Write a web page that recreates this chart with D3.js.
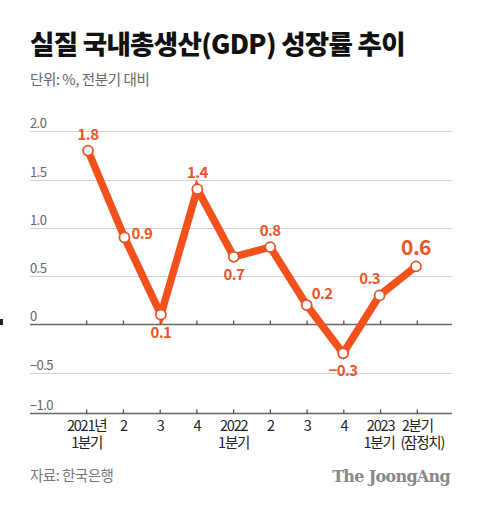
<!DOCTYPE html>
<html><head><meta charset="utf-8">
<script src="https://cdn.jsdelivr.net/npm/d3@7"></script>
<style>
html,body{margin:0;padding:0;background:#fff;}
svg{display:block;font-family:"Noto Sans CJK KR","Noto Sans",sans-serif;}
</style></head>
<body>
<svg id="chart" width="480" height="507"></svg>
<script>
const title = "실질 국내총생산(GDP) 성장률 추이";
const subtitle = "단위: %, 전분기 대비";
const source = "자료: 한국은행";
const brand = "The JoongAng";
const categories = ["2021년\n1분기","2","3","4","2022\n1분기","2","3","4","2023\n1분기","2분기\n(잠정치)"];
const values = [1.8, 0.9, 0.1, 1.4, 0.7, 0.8, 0.2, -0.3, 0.3, 0.6];
const labelPos = ["top","right","bottom","top","bottom","top","topright","bottom","topleft","top"];
const yTicks = [2.0, 1.5, 1.0, 0.5, 0, -0.5, -1.0];

const svg = d3.select("#chart");
const left = 30, right = 452;

const x = d3.scalePoint().domain(d3.range(categories.length)).range([88, 416]);
const y = d3.scaleLinear().domain([-1, -0.5, 2]).range([413, 372.6, 131.3]);

// title
svg.append("text").attr("x", left).attr("y", 54).attr("font-size", 26.5).attr("font-weight", 900)
  .attr("fill", "#111").attr("letter-spacing", -0.7).text(title);
svg.append("text").attr("x", left).attr("y", 85).attr("font-size", 14.5).attr("fill", "#666")
  .attr("letter-spacing", -0.4).text(subtitle);

// gridlines
yTicks.forEach(t => {
  const yy = Math.round(y(t)) + 0.5;
  const isAxis = (t === 0 || t === -1.0);
  svg.append("line").attr("x1", left).attr("x2", right).attr("y1", yy).attr("y2", yy)
    .attr("stroke", isAxis ? "#666" : "#d0d0d0").attr("stroke-width", isAxis ? 1.6 : 1);
  svg.append("text").attr("x", left).attr("y", yy - 4).attr("font-size", 13)
    .attr("fill", "#666").attr("letter-spacing", -0.6)
    .text(t === 0 ? "0" : (t < 0 ? "\u2212" + d3.format(".1f")(-t) : d3.format(".1f")(t)));
});

// ticks on 0 line and bottom axis
const tickX = d3.scalePoint().domain(d3.range(categories.length)).range([86.7, 417.3]);
[0, -1.0].forEach(t => {
  const yy = Math.round(y(t)) + 0.5;
  categories.forEach((c, i) => {
    svg.append("line").attr("x1", tickX(i)).attr("x2", tickX(i)).attr("y1", yy).attr("y2", yy - 4)
      .attr("stroke", "#444").attr("stroke-width", 1.2);
  });
});

// x labels
const n = categories.length;
categories.forEach((c, i) => {
  const lines = c.split("\n");
  lines.forEach((ln, k) => {
    let dx = 0;
    if (k === 1 && i === n - 1) dx = 5;
    if (k === 1 && i === n - 2) dx = -1.5;
    svg.append("text").attr("text-anchor", "middle").attr("font-size", 14.5)
      .attr("fill", "#222").attr("letter-spacing", -1.2)
      .attr("x", tickX(i) + dx)
      .attr("y", 430.5 + k * 17).text(ln);
  });
});

// line
const lineColor = "#F2511C";
svg.append("path").datum(values)
  .attr("d", d3.line().x((d, i) => x(i)).y(d => y(d)))
  .attr("fill", "none").attr("stroke", lineColor).attr("stroke-width", 7.5)
  .attr("stroke-linejoin", "miter").attr("stroke-linecap", "butt");

svg.selectAll("circle.pt").data(values).enter().append("circle")
  .attr("cx", (d, i) => x(i)).attr("cy", d => y(d)).attr("r", 5)
  .attr("fill", "#fff").attr("stroke", "#E8532B").attr("stroke-width", 1.8);

// value labels
values.forEach((v, i) => {
  const px = x(i), py = y(v);
  const last = i === values.length - 1;
  let tx = px, ty = py, anchor = "middle";
  switch (labelPos[i]) {
    case "top": ty = py - 11; break;
    case "bottom": ty = py + 23; break;
    case "right": tx = px + 7; ty = py + 2; anchor = "start"; break;
    case "topright": tx = px + 5; ty = py - 6; anchor = "start"; break;
    case "topleft": tx = px - 10; ty = py - 11; break;
  }
  if (last) ty = py - 11;
  svg.append("text").attr("x", tx).attr("y", ty).attr("text-anchor", anchor)
    .attr("font-size", last ? 21 : 15).attr("font-weight", 700).attr("fill", "#EC5428")
    .attr("letter-spacing", -0.6)
    .text(v < 0 ? "\u2212" + d3.format(".1f")(-v) : d3.format(".1f")(v));
});

// footer
svg.append("text").attr("x", left).attr("y", 481).attr("font-size", 14.5).attr("fill", "#777")
  .attr("letter-spacing", -0.5).text(source);
svg.append("text").attr("x", 450).attr("y", 482).attr("text-anchor", "end")
  .attr("font-family", "'DejaVu Serif','Liberation Serif',serif").attr("font-weight", 700)
  .attr("font-size", 16).attr("fill", "#888").attr("letter-spacing", -0.7).text(brand);

// small edge mark
svg.append("rect").attr("x", 0).attr("y", 319).attr("width", 3).attr("height", 6).attr("fill", "#222");
</script>
</body></html>
